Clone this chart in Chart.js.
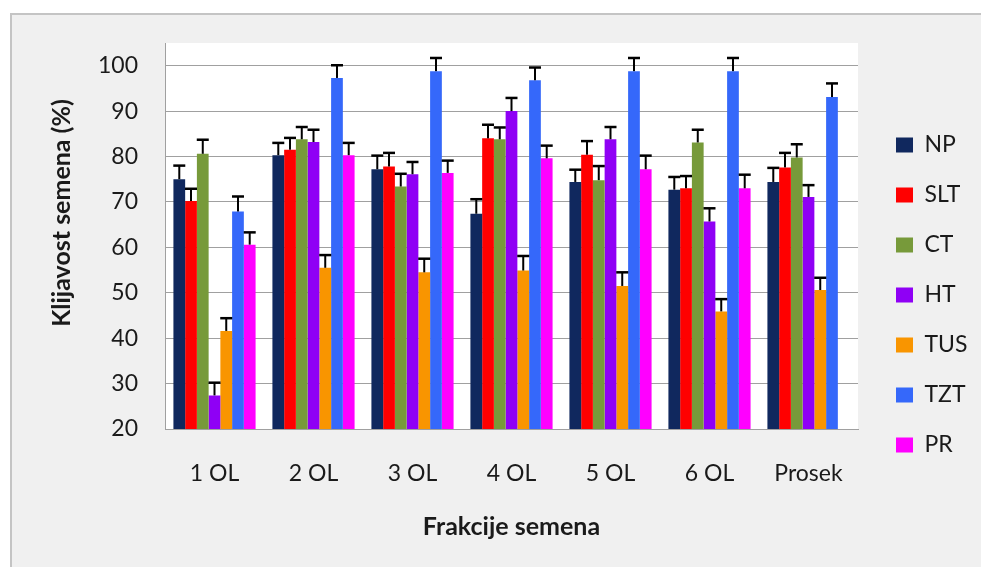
<!DOCTYPE html>
<html>
<head>
<meta charset="utf-8">
<script src="https://cdn.jsdelivr.net/npm/chart.js@4.4.1/dist/chart.umd.min.js"></script>
<style>
  body { margin: 0; background: #fff; overflow: hidden; }
  #wrap {
    position: absolute; left: 10px; top: 13px;
    width: 1000px; height: 600px;
    background: #f0f0f0;
    border-top: 2px solid #c4c4c4;
    border-left: 2px solid #c4c4c4;
  }
  canvas { display: block; }
</style>
</head>
<body>
<div id="wrap"><canvas id="chart" width="969" height="552"></canvas></div>
<script>
// Podaci
const categories = ['1 OL', '2 OL', '3 OL', '4 OL', '5 OL', '6 OL', 'Prosek'];
const seriesNames = ['NP', 'SLT', 'CT', 'HT', 'TUS', 'TZT', 'PR'];

const NP  = [75.0, 80.3, 77.2, 67.4, 74.4, 72.7, 74.4];
const SLT = [70.2, 81.5, 77.8, 84.0, 80.4, 73.0, 77.6];
const CT  = [80.6, 83.8, 73.4, 83.8, 74.8, 83.1, 79.8];
const HT  = [27.4, 83.2, 76.1, 90.0, 83.8, 65.7, 71.1];
const TUS = [41.6, 55.5, 54.5, 54.9, 51.5, 45.9, 50.6];
const TZT = [67.9, 97.3, 98.8, 96.8, 98.8, 98.8, 93.1];
const PR  = [60.6, 80.3, 76.4, 79.6, 77.2, 73.0, null];

// Greske (gornji deo)
const NP_err  = [3.0, 2.7, 3.0, 3.2, 2.7, 2.8, 3.1];
const SLT_err = [2.7, 2.6, 3.0, 3.0, 3.0, 2.7, 3.2];
const CT_err  = [3.1, 2.7, 2.8, 2.6, 3.1, 2.8, 2.9];
const HT_err  = [2.8, 2.7, 2.7, 2.9, 2.7, 2.9, 2.6];
const TUS_err = [2.8, 2.8, 3.0, 3.2, 3.0, 2.7, 2.7];
const TZT_err = [3.3, 2.8, 2.9, 2.8, 2.9, 2.9, 3.0];
const PR_err  = [2.7, 2.7, 2.7, 2.8, 3.0, 3.0, null];

const yTicks = [20, 30, 40, 50, 60, 70, 80, 90, 100];
const yMin = 20;
const yMax = 105;

const values = [NP, SLT, CT, HT, TUS, TZT, PR];
const errors = [NP_err, SLT_err, CT_err, HT_err, TUS_err, TZT_err, PR_err];
const colors = ['#10285e', '#ff0000', '#779a3a', '#8f00f5', '#f99500', '#3568fa', '#ff00ff'];

const FONT = 'Lato, "Open Sans", sans-serif';

// Bela pozadina za oblast grafika
const plotBg = {
  id: 'plotBg',
  beforeDraw(chart) {
    const { ctx, chartArea: a } = chart;
    ctx.save();
    ctx.fillStyle = '#ffffff';
    ctx.fillRect(a.left, a.top, a.right - a.left, a.bottom - a.top);
    ctx.restore();
  }
};

// Linije greske (samo nagore)
const errorBars = {
  id: 'errorBars',
  afterDatasetsDraw(chart) {
    const ctx = chart.ctx;
    const yScale = chart.scales.y;
    ctx.save();
    ctx.strokeStyle = '#000';
    chart.data.datasets.forEach((ds, i) => {
      const meta = chart.getDatasetMeta(i);
      meta.data.forEach((bar, j) => {
        const v = ds.data[j];
        const e = errors[i][j];
        if (v == null || e == null) return;
        const yTop = yScale.getPixelForValue(v + e);
        ctx.lineWidth = 2;
        ctx.beginPath();
        ctx.moveTo(bar.x, bar.y);
        ctx.lineTo(bar.x, yTop);
        ctx.stroke();
        ctx.lineWidth = 2.5;
        ctx.beginPath();
        ctx.moveTo(bar.x - 6, yTop);
        ctx.lineTo(bar.x + 6, yTop);
        ctx.stroke();
      });
    });
    ctx.restore();
  }
};

// Legenda malo udesno od grafika
const legendShift = {
  id: 'legendShift',
  afterLayout(chart) {
    const lg = chart.legend;
    lg.left += 11;
    lg.width = 130;
    lg.right = lg.left + lg.width;
  }
};

// Naslov y ose
const yTitle = {
  id: 'yTitle',
  afterDraw(chart) {
    const ctx = chart.ctx;
    ctx.save();
    ctx.translate(50, 198);
    ctx.rotate(-Math.PI / 2);
    ctx.font = 'bold 25px ' + FONT;
    ctx.fillStyle = '#1a1a1a';
    ctx.textAlign = 'center';
    ctx.textBaseline = 'middle';
    ctx.fillText('Klijavost semena (%)', 0, 0);
    ctx.restore();
  }
};

document.addEventListener('DOMContentLoaded', () => {
  const datasets = seriesNames.map((name, i) => ({
    label: name,
    data: values[i],
    backgroundColor: colors[i],
    borderWidth: 0
  }));

  new Chart(document.getElementById('chart'), {
    type: 'bar',
    data: { labels: categories, datasets: datasets },
    plugins: [plotBg, errorBars, legendShift, yTitle],
    options: {
      responsive: false,
      devicePixelRatio: 1,
      animation: false,
      categoryPercentage: 0.83,
      barPercentage: 1.0,
      layout: { padding: { top: 15, left: 0, right: 33, bottom: 7 } },
      plugins: {
        legend: {
          position: 'right',
          maxWidth: 90,
          labels: {
            boxWidth: 17,
            boxHeight: 15,
            padding: 27,
            color: '#1a1a1a',
            font: { family: FONT, size: 23 }
          }
        },
        tooltip: { enabled: false }
      },
      scales: {
        x: {
          grid: { display: false, drawTicks: false },
          border: { color: '#a0a0a0', width: 1 },
          ticks: { color: '#1a1a1a', padding: 31, font: { family: FONT, size: 23 } },
          title: {
            display: true,
            text: 'Frakcije semena',
            color: '#1a1a1a',
            font: { family: FONT, size: 25, weight: 'bold' },
            padding: { top: 0, bottom: 18 }
          },
          afterFit: (scale) => { scale.height = 131; }
        },
        y: {
          min: yMin,
          max: yMax,
          afterBuildTicks: (scale) => { scale.ticks = yTicks.map(v => ({ value: v })); },
          grid: { color: '#a0a0a0', drawTicks: false },
          border: { color: '#a0a0a0', width: 1 },
          ticks: {
            padding: 27,
            color: '#1a1a1a',
            font: { family: FONT, size: 23 }
          },
          afterFit: (scale) => {
            scale.width = 153;
            scale.paddingTop = 28;
            scale.paddingBottom = 0;
          }
        }
      }
    }
  });
});
</script>
</body>
</html>
